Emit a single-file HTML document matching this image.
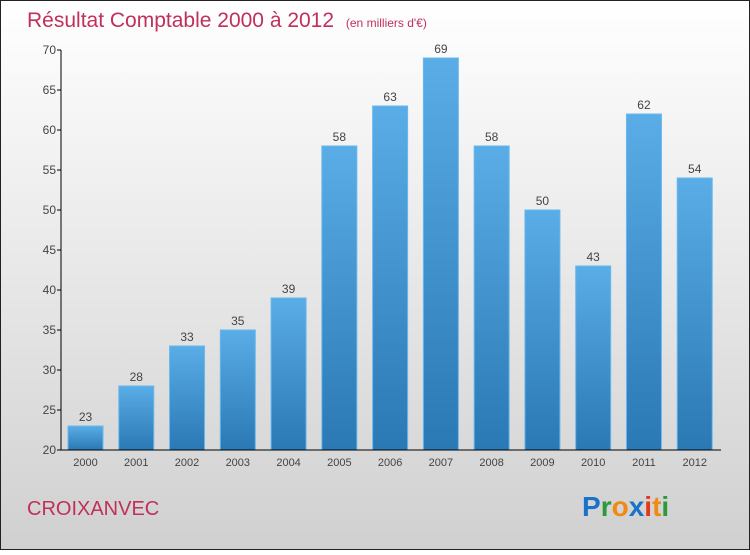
<!DOCTYPE html>
<html><head><meta charset="utf-8"><style>
body{margin:0;width:750px;height:550px;overflow:hidden;font-family:"Liberation Sans",sans-serif}
</style></head><body>
<svg id="c" width="750" height="550" xmlns="http://www.w3.org/2000/svg">
<defs>
<linearGradient id="bg" x1="0" y1="0" x2="0" y2="1"><stop offset="0" stop-color="#ffffff"/><stop offset="1" stop-color="#d0d0d0"/></linearGradient>
<linearGradient id="bar" x1="0" y1="0" x2="0" y2="1"><stop offset="0" stop-color="#5aade6"/><stop offset="1" stop-color="#2a78b4"/></linearGradient>
</defs>
<rect x="0.5" y="0.5" width="749" height="549" fill="url(#bg)" stroke="#222"/>
<text x="27" y="27" font-size="21" fill="#c0305a">Résultat Comptable 2000 à 2012 <tspan font-size="12" dx="6">(en milliers d'€)</tspan></text>
<text x="27" y="515" font-size="20" fill="#c0305a">CROIXANVEC</text>
<g font-size="28" font-weight="bold" font-family="Liberation Sans, sans-serif">
<text x="582" y="516"><tspan fill="#1a73c8">P</tspan><tspan fill="#2a9a3a">r</tspan><tspan fill="#f08a10">o</tspan><tspan fill="#1a73c8">x</tspan><tspan fill="#e23a1a">i</tspan><tspan fill="#f08a10">t</tspan><tspan fill="#2a9a3a">i</tspan></text>
</g>
<g id="plot"></g>
</svg>
<script>
const categories=["2000","2001","2002","2003","2004","2005","2006","2007","2008","2009","2010","2011","2012"];
const values=[23,28,33,35,39,58,63,69,58,50,43,62,54];
const yTicks=[20,25,30,35,40,45,50,55,60,65,70];
const x0=61,x1=721,yTop=50,yBot=450,yMin=20,yMax=70;
const step=(x1-x0)/categories.length;
function xs(i){return x0+i*step;}
function ys(v){return yBot-(v-yMin)/(yMax-yMin)*(yBot-yTop);}
const g=document.getElementById('plot');
const NS='http://www.w3.org/2000/svg';
function mk(t,a){const e=document.createElementNS(NS,t);for(const k in a)e.setAttribute(k,a[k]);g.appendChild(e);return e;}
values.forEach((v,i)=>{
 const r=mk('rect',{x:xs(i)+7,y:ys(v),width:35,height:yBot-ys(v),fill:'url(#bar)',stroke:'#6ab8ee','stroke-width':1});
 
 
 const t=mk('text',{x:xs(i)+24.5,y:ys(v)-5,'font-size':12,fill:'#444','text-anchor':'middle'});
 t.textContent=v;
 
 
 const c=mk('text',{x:xs(i)+24.5,y:466,'font-size':11,fill:'#444','text-anchor':'middle'});
 c.textContent=categories[i];
 
 
});
const ya=mk('line',{x1:x0,y1:yTop,x2:x0,y2:yBot,stroke:'#000'});


const xa=mk('line',{x1:x0,y1:yBot,x2:x1,y2:yBot,stroke:'#000'});


yTicks.forEach(v=>{
 mk('line',{x1:x0-4,y1:ys(v),x2:x0,y2:ys(v),stroke:'#000'});
 const t=mk('text',{x:x0-5,y:ys(v)+4,'font-size':12,fill:'#444','text-anchor':'end'});
 t.textContent=v;
 
 
});
</script>
</body></html>
